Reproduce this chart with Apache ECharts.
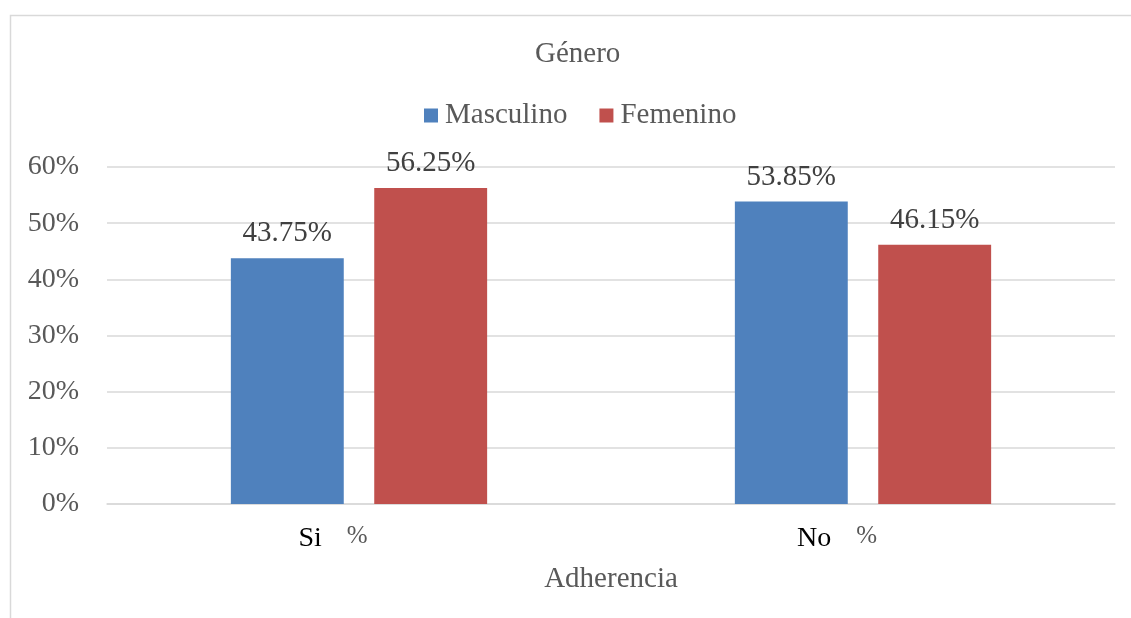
<!DOCTYPE html>
<html>
<head>
<meta charset="utf-8">
<script src="https://cdn.jsdelivr.net/npm/echarts@6/dist/echarts.min.js"></script>
<style>
html,body{margin:0;padding:0;background:#fff;}
#c{width:1131px;height:618px;}
</style>
</head>
<body>
<div id="c"></div>
<script>
const title = 'Género';
const axisTitle = 'Adherencia';
const categories = ['Si', 'No'];
const categoryUnits = ['%', '%'];
const seriesNames = ['Masculino', 'Femenino'];
const masculino = [43.75, 53.85];
const femenino = [56.25, 46.15];
const yTicks = [0, 10, 20, 30, 40, 50, 60];

const FONT = '"Liberation Serif", "Times New Roman", serif';
const chart = echarts.init(document.getElementById('c'));
chart.setOption({
  animation: false,
  backgroundColor: '#fff',
  color: ['#4F81BD', '#C0504D'],
  graphic: [{
    type: 'polyline', silent: true,
    shape: { points: [[10.5, 640], [10.5, 15.5], [1140, 15.5]] },
    style: { stroke: '#D9D9D9', lineWidth: 1.5, fill: null }
  }],
  title: {
    text: title, left: 530, top: 35,
    textStyle: { fontFamily: FONT, fontSize: 29, fontWeight: 'normal', color: '#595959' }
  },
  legend: {
    top: 96, left: 419, itemWidth: 14, itemHeight: 14, itemGap: 32,
    icon: 'rect',
    textStyle: { fontFamily: FONT, fontSize: 29, color: '#595959', padding: [0, 0, 0, 2] },
    data: seriesNames
  },
  grid: { left: 107, right: 16, top: 167, bottom: 114, containLabel: false },
  xAxis: {
    type: 'category', data: categories,
    name: axisTitle, nameLocation: 'middle', nameGap: 61,
    nameTextStyle: { fontFamily: FONT, fontSize: 29, color: '#595959' },
    axisLine: { show: true, lineStyle: { color: '#D9D9D9', width: 1.5 } },
    axisTick: { show: false },
    axisLabel: {
      margin: 20,
      padding: [0, 52, 0, 0],
      formatter: function (v, i) { return '{a|' + v + '}{b|' + categoryUnits[i] + '}'; },
      rich: {
        a: { fontFamily: FONT, fontSize: 28, color: '#000' },
        b: { fontFamily: FONT, fontSize: 25, color: '#595959', padding: [0, 0, 4, 25] }
      }
    }
  },
  yAxis: {
    type: 'value', min: 0, max: 60, interval: 10,
    axisLine: { show: false }, axisTick: { show: false },
    splitLine: { lineStyle: { color: '#D9D9D9', width: 1.5 } },
    axisLabel: {
      margin: 28, fontFamily: FONT, fontSize: 28, color: '#595959',
      formatter: function (v) { return yTicks.indexOf(v) >= 0 ? v + '%' : ''; }
    }
  },
  series: [
    {
      name: seriesNames[0], type: 'bar', data: masculino,
      barWidth: '22.4%', barGap: '27%',
      label: { show: true, position: 'top', distance: 10, fontFamily: FONT, fontSize: 29, color: '#404040',
        formatter: function (p) { return p.value.toFixed(2) + '%'; } }
    },
    {
      name: seriesNames[1], type: 'bar', data: femenino,
      barWidth: '22.4%', barGap: '27%',
      label: { show: true, position: 'top', distance: 10, fontFamily: FONT, fontSize: 29, color: '#404040',
        formatter: function (p) { return p.value.toFixed(2) + '%'; } }
    }
  ]
});
</script>
</body>
</html>
